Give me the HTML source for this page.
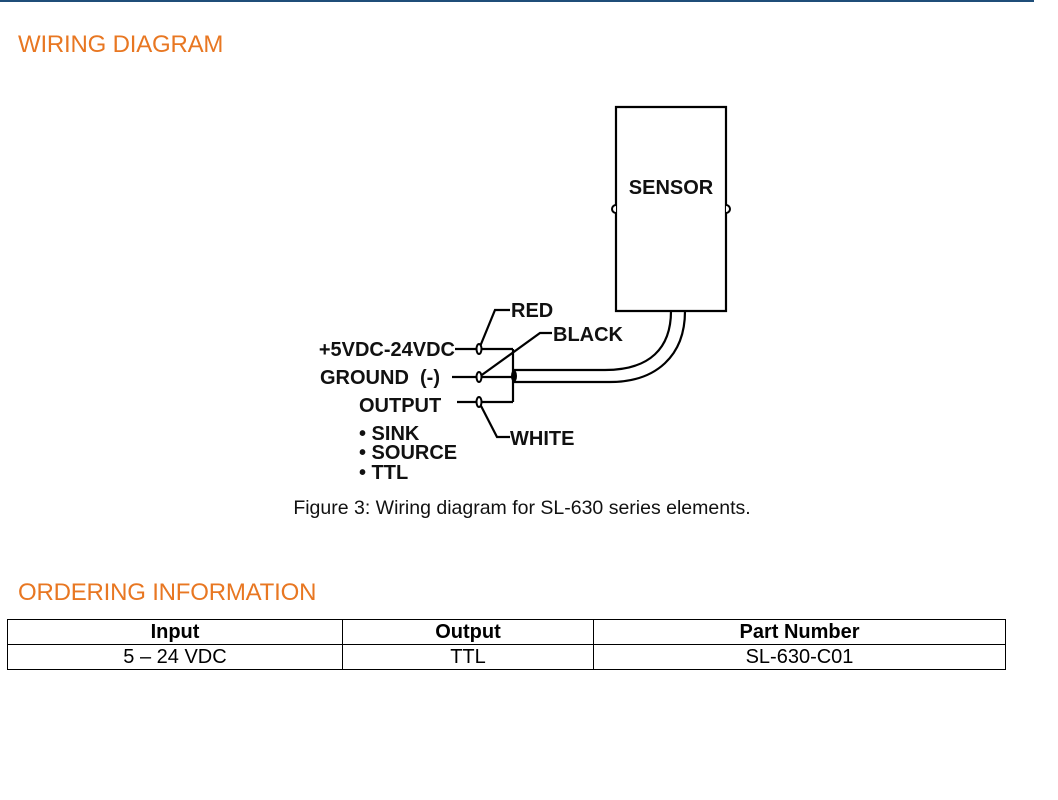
<!DOCTYPE html>
<html><head><style>
body{margin:0;width:1058px;height:800px;background:#fff;position:relative;font-family:"Liberation Sans",Arial,sans-serif;overflow:hidden}
.top{position:absolute;left:0;top:0;width:1034px;height:2px;background:#1f4e79}
.h{position:absolute;left:18px;color:#e87722;font-size:24px;letter-spacing:-0.2px}
table{position:absolute;left:7px;top:619px;width:999px;border-collapse:collapse;font-size:20px}
td,th{border:1px solid #000;text-align:center;padding:0;height:24px;line-height:22px}
th{font-weight:bold}
</style></head><body>
<div class="top"></div>
<div class="h" style="top:31px">WIRING DIAGRAM</div>
<svg width="1058" height="560" style="position:absolute;left:0;top:0" font-family="Liberation Sans,Arial,sans-serif">
<g fill="none" stroke="#000" stroke-width="2.2">
<path d="M616,107 H726 V311 H616 Z"/>
<path d="M671,311 C671,348 650,370 605,370 L513,370"/>
<path d="M685,311 C685,356 656,382 610,382 L513,382"/>
<path d="M513,349 V402"/>
<path d="M455,349 H513 M452,377 H513 M457,402 H513"/>
<path d="M479,349 L495,310 H510"/>
<path d="M479,377 L540,333 H552"/>
<path d="M479,402 L497,437 H510"/>
</g>
<g fill="#fff" stroke="#000" stroke-width="2">
<ellipse cx="479" cy="349" rx="2.5" ry="5"/>
<ellipse cx="479" cy="377" rx="2.5" ry="5"/>
<ellipse cx="479" cy="402" rx="2.5" ry="5"/>
</g>
<ellipse cx="514" cy="376" rx="3" ry="6" fill="#000"/>
<path d="M616,205 a4,4 0 0 0 0,8" fill="#fff" stroke="#000" stroke-width="2"/>
<path d="M726,205 a4,4 0 0 1 0,8" fill="#fff" stroke="#000" stroke-width="2"/>
<g font-weight="bold" font-size="20" fill="#111">
<text x="671" y="194" text-anchor="middle">SENSOR</text>
<text x="511" y="317">RED</text>
<text x="553" y="341">BLACK</text>
<text x="510" y="445">WHITE</text>
<text x="455" y="356" text-anchor="end">+5VDC-24VDC</text>
<text x="320" y="384" xml:space="preserve">GROUND  (-)</text>
<text x="359" y="412">OUTPUT</text>
<text x="359" y="440">• SINK</text>
<text x="359" y="459">• SOURCE</text>
<text x="359" y="479">• TTL</text>
</g>
<text x="522" y="514" text-anchor="middle" font-size="19.5" fill="#111">Figure 3: Wiring diagram for SL-630 series elements.</text>
</svg>
<div class="h" style="top:579px">ORDERING INFORMATION</div>
<table>
<tr><th style="width:334px">Input</th><th style="width:250px">Output</th><th>Part Number</th></tr>
<tr><td>5 – 24 VDC</td><td>TTL</td><td>SL-630-C01</td></tr>
</table>
</body></html>
